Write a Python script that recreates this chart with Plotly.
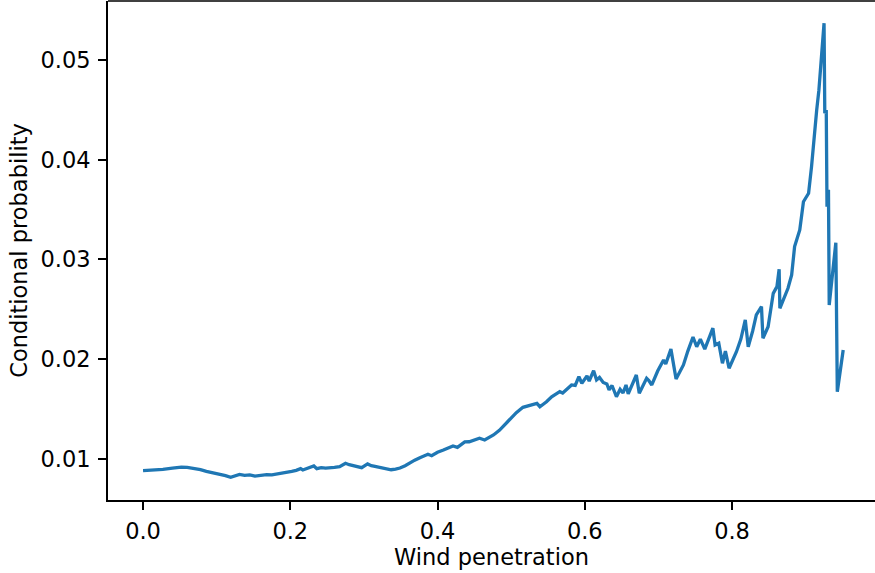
import plotly.graph_objects as go

wind_penetration = [
    0.000, 0.013, 0.027, 0.040, 0.052, 0.060, 0.068, 0.078, 0.086, 0.095,
    0.104, 0.112, 0.119, 0.125, 0.131, 0.138, 0.145, 0.152, 0.160, 0.168,
    0.175, 0.181, 0.188, 0.195, 0.202, 0.208, 0.214, 0.217, 0.225, 0.232,
    0.236, 0.242, 0.248, 0.254, 0.260, 0.267, 0.275, 0.280, 0.285, 0.291,
    0.297, 0.305, 0.310, 0.315, 0.320, 0.326, 0.331, 0.337, 0.343, 0.349,
    0.356, 0.362, 0.369, 0.376, 0.382, 0.387, 0.392, 0.400, 0.408, 0.415,
    0.421, 0.427, 0.432, 0.437, 0.443, 0.450, 0.457, 0.464, 0.470, 0.476,
    0.484, 0.491, 0.499, 0.507, 0.516, 0.523, 0.530, 0.535, 0.539, 0.548,
    0.555, 0.561, 0.566, 0.570, 0.576, 0.582, 0.587, 0.592, 0.596, 0.603,
    0.606, 0.612, 0.616, 0.620, 0.625, 0.630, 0.633, 0.637, 0.643, 0.648,
    0.652, 0.656, 0.659, 0.666, 0.670, 0.674, 0.684, 0.687, 0.691, 0.699,
    0.707, 0.710, 0.717, 0.724, 0.734, 0.740, 0.747, 0.752, 0.757, 0.763,
    0.774, 0.777, 0.782, 0.787, 0.791, 0.796, 0.806, 0.812, 0.818, 0.822,
    0.828, 0.833, 0.840, 0.842, 0.849, 0.856, 0.861, 0.864, 0.865, 0.876,
    0.881, 0.885, 0.892, 0.897, 0.904, 0.908, 0.911, 0.915, 0.918, 0.922,
    0.925, 0.926, 0.928, 0.929, 0.931, 0.932, 0.941, 0.943, 0.951,
]

conditional_probability = [
    0.00880, 0.00884, 0.00892, 0.00905, 0.00915, 0.00912, 0.00904, 0.00890, 0.00872, 0.00860,
    0.00846, 0.00830, 0.00813, 0.00828, 0.00843, 0.00833, 0.00838, 0.00826, 0.00836, 0.00840,
    0.00838, 0.00845, 0.00850, 0.00860, 0.00872, 0.00883, 0.00900, 0.00887, 0.00905, 0.00927,
    0.00900, 0.00910, 0.00905, 0.00906, 0.00912, 0.00920, 0.00954, 0.00940, 0.00930, 0.00922,
    0.00910, 0.00947, 0.00930, 0.00922, 0.00915, 0.00904, 0.00895, 0.00889, 0.00895, 0.00906,
    0.00930, 0.00960, 0.00985, 0.01010, 0.01030, 0.01044, 0.01030, 0.01065, 0.01087, 0.01105,
    0.01128, 0.01114, 0.01140, 0.01168, 0.01170, 0.01185, 0.01205, 0.01188, 0.01215, 0.01238,
    0.01285, 0.01338, 0.01400, 0.01462, 0.01516, 0.01528, 0.01539, 0.01555, 0.01522, 0.01572,
    0.01622, 0.01650, 0.01673, 0.01660, 0.01705, 0.01740, 0.01735, 0.01823, 0.01757, 0.01830,
    0.01780, 0.01884, 0.01790, 0.01815, 0.01765, 0.01750, 0.01690, 0.01735, 0.01622, 0.01696,
    0.01660, 0.01740, 0.01650, 0.01773, 0.01840, 0.01657, 0.01807, 0.01785, 0.01740, 0.01880,
    0.01990, 0.01950, 0.02100, 0.01800, 0.01941, 0.02080, 0.02222, 0.02124, 0.02200, 0.02100,
    0.02310, 0.02142, 0.02160, 0.01958, 0.02080, 0.01908, 0.02074, 0.02200, 0.02393, 0.02124,
    0.02280, 0.02443, 0.02526, 0.02209, 0.02325, 0.02660, 0.02727, 0.02902, 0.02510, 0.02711,
    0.02844, 0.03129, 0.03296, 0.03580, 0.03665, 0.03932, 0.04217, 0.04500, 0.04700, 0.05070,
    0.05372, 0.04468, 0.04500, 0.03530, 0.03700, 0.02543, 0.03169, 0.01673, 0.02091,
]

x_tick_vals = [0.0, 0.2, 0.4, 0.6, 0.8]
x_tick_text = ["0.0", "0.2", "0.4", "0.6", "0.8"]
y_tick_vals = [0.01, 0.02, 0.03, 0.04, 0.05]
y_tick_text = ["0.01", "0.02", "0.03", "0.04", "0.05"]

font_family = "DejaVu Sans"
font_size = 22.5

fig = go.Figure()
fig.add_trace(go.Scatter(
    x=wind_penetration,
    y=conditional_probability,
    mode="lines",
    line=dict(color="#1f77b4", width=3.3),
    showlegend=False,
    hoverinfo="skip",
))

fig.update_layout(
    width=875,
    height=573,
    margin=dict(l=108, r=0, t=1, b=73, pad=0),
    paper_bgcolor="white",
    plot_bgcolor="white",
    font=dict(family=font_family, size=font_size, color="black"),
    xaxis=dict(
        range=[-0.0476, 0.9942],
        tickvals=x_tick_vals,
        ticktext=x_tick_text,
        ticks="outside",
        ticklen=8,
        tickwidth=1.6,
        tickcolor="black",
        ticklabelstandoff=2,
        showline=True,
        linecolor="black",
        linewidth=1.7,
        showgrid=False,
        zeroline=False,
        title=dict(text="Wind penetration", font=dict(size=font_size), standoff=6),
        tickfont=dict(size=font_size),
    ),
    yaxis=dict(
        range=[0.005853, 0.05595],
        tickvals=y_tick_vals,
        ticktext=y_tick_text,
        ticks="outside",
        ticklen=8,
        tickwidth=1.6,
        tickcolor="black",
        ticklabelstandoff=3,
        showline=True,
        linecolor="black",
        linewidth=1.7,
        showgrid=False,
        zeroline=False,
        title=dict(text="Conditional probability", font=dict(size=font_size), standoff=7),
        tickfont=dict(size=font_size),
    ),
    shapes=[dict(
        type="line", xref="paper", yref="paper",
        x0=0, x1=1, y0=1, y1=1,
        line=dict(color="black", width=1.7),
    )],
)

fig.write_html(
    "out.html",
    config={"displayModeBar": False},
    post_script="document.body.style.margin='0';document.body.style.overflow='hidden';",
)
